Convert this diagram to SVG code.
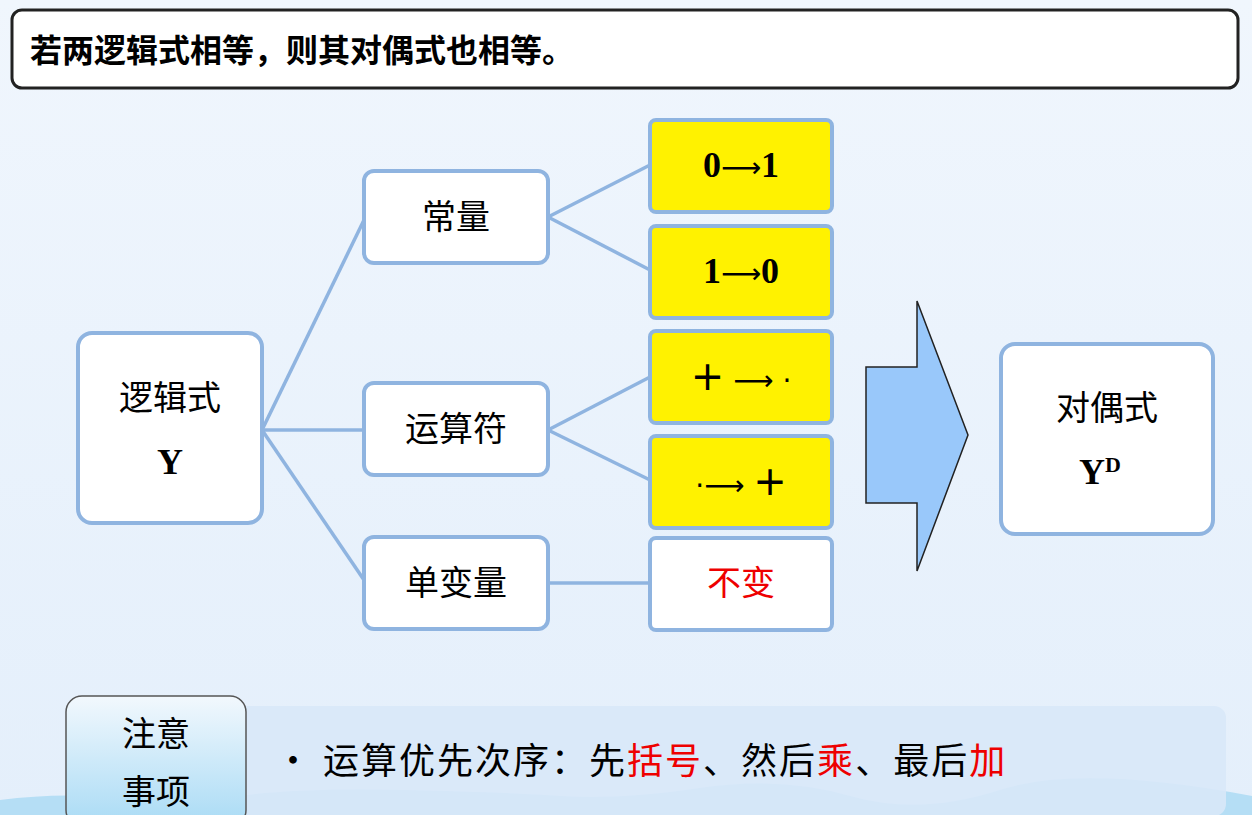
<svg xmlns="http://www.w3.org/2000/svg" width="1252" height="815" viewBox="0 0 1252 815">
<defs>
<linearGradient id="bg" x1="0" y1="0" x2="0" y2="1"><stop offset="0" stop-color="#f0f6fd"/><stop offset="1" stop-color="#e4effb"/></linearGradient>
<linearGradient id="note" x1="0" y1="0" x2="0" y2="1"><stop offset="0" stop-color="#f2f8fd"/><stop offset="1" stop-color="#a9dbf5"/></linearGradient>
<style>
.n{fill:#fff;stroke:#8fb4e0;stroke-width:4}
.y{fill:#fff200;stroke:#8fb4e0;stroke-width:4}
.t{font-family:"Noto Sans CJK SC",sans-serif;font-size:34px;fill:#000;text-anchor:middle}
.m{font-family:"Liberation Serif",serif;font-size:36px;font-weight:bold;fill:#000;text-anchor:middle}
.a{font-family:"DejaVu Sans",sans-serif;font-size:28px;font-weight:normal}
.p{font-family:"DejaVu Sans",sans-serif;font-size:40px;font-weight:normal}
.red{fill:#e00}
.c line{stroke:#8fb4e0;stroke-width:3.5}
</style>
</defs>
<rect width="1252" height="815" fill="url(#bg)"/>
<path d="M0,800 Q60,792 120,798 T240,796 T400,790 T560,796 T700,788 T850,796 T1000,790 T1252,796 V815 H0Z" fill="#b5def5"/>
<g id="title"><rect x="12" y="10" width="1226" height="78" rx="10" fill="#fff" stroke="#222" stroke-width="3"/>
<text x="30" y="62" font-family="Noto Sans CJK SC,sans-serif" font-size="32" font-weight="bold">若两逻辑式相等，则其对偶式也相等。</text></g>
<g class="c" id="connectors">
<line x1="262" y1="430" x2="364" y2="220"/><line x1="262" y1="430" x2="364" y2="430"/><line x1="262" y1="430" x2="364" y2="580"/>
<line x1="548" y1="217" x2="650" y2="165"/><line x1="548" y1="217" x2="650" y2="270"/>
<line x1="548" y1="430" x2="650" y2="377"/><line x1="548" y1="430" x2="650" y2="480"/>
<line x1="548" y1="583" x2="650" y2="583"/>
</g>
<g id="n-y"><rect class="n" x="78" y="333" width="184" height="190" rx="14"/><text class="t" x="170" y="410">逻辑式</text><text class="m" x="170" y="474">Y</text></g>
<g id="n-const"><rect class="n" x="364" y="171" width="184" height="92" rx="10"/><text class="t" x="456" y="229">常量</text></g>
<g id="n-op"><rect class="n" x="364" y="383" width="184" height="92" rx="10"/><text class="t" x="456" y="441">运算符</text></g>
<g id="n-var"><rect class="n" x="364" y="537" width="184" height="92" rx="10"/><text class="t" x="456" y="595">单变量</text></g>
<g id="n-01"><rect class="y" x="650" y="120" width="182" height="92" rx="6"/><text class="m" x="741" y="177">0<tspan class="a">⟶</tspan>1</text></g>
<g id="n-10"><rect class="y" x="650" y="226" width="182" height="92" rx="6"/><text class="m" x="741" y="283">1<tspan class="a">⟶</tspan>0</text></g>
<g id="n-pd"><rect class="y" x="650" y="331" width="182" height="92" rx="6"/><text class="m" x="741" y="390"><tspan class="p">+</tspan> <tspan class="a">⟶</tspan> <tspan class="a">·</tspan></text></g>
<g id="n-dp"><rect class="y" x="650" y="436" width="182" height="92" rx="6"/><text class="m" x="741" y="495"><tspan class="a">·</tspan><tspan class="a">⟶</tspan> <tspan class="p">+</tspan></text></g>
<g id="n-same"><rect class="n" x="650" y="538" width="182" height="92" rx="6"/><text class="t red" x="741" y="595">不变</text></g>
<g id="arrow"><polygon points="866,367 917,367 917,301 968,435 917,571 917,503 866,503" fill="#99c8fa" stroke="#222" stroke-width="1.5"/></g>
<g id="n-yd"><rect class="n" x="1001" y="344" width="212" height="190" rx="14"/><text class="t" x="1107" y="420">对偶式</text><text class="m" x="1100" y="484">Y<tspan font-size="22" dy="-12">D</tspan></text></g>
<g id="note-box"><rect x="230" y="706" width="996" height="110" rx="12" fill="#d8e8f8" opacity="0.9"/>
<rect x="66" y="696" width="180" height="130" rx="16" fill="url(#note)" stroke="#555" stroke-width="1.5"/>
<text class="t" x="156" y="746">注意</text><text class="t" x="156" y="804">事项</text>
<text x="275" y="774" font-family="Noto Sans CJK SC,sans-serif" font-size="36" letter-spacing="2">• 运算优先次序：先<tspan class="red">括号</tspan>、然后<tspan class="red">乘</tspan>、最后<tspan class="red">加</tspan></text></g>
</svg>
